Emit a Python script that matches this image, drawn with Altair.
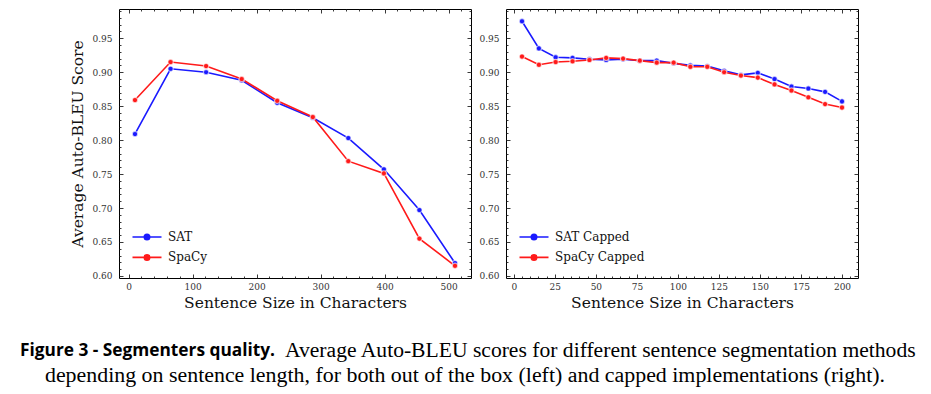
import altair as alt
import pandas as pd

# ---------------- data ----------------
left_sizes = [10, 65.6, 121.1, 176.7, 232.2, 287.8, 343.3, 398.9, 454.4, 510]
left_sat = [0.809, 0.905, 0.900, 0.888, 0.855, 0.833, 0.803, 0.757, 0.697, 0.619]
left_spacy = [0.859, 0.915, 0.909, 0.890, 0.858, 0.834, 0.769, 0.751, 0.655, 0.615]

right_sizes = [5, 15.3, 25.5, 35.8, 46.1, 56.3, 66.6, 76.8, 87.1, 97.4,
               107.6, 117.9, 128.2, 138.4, 148.7, 158.9, 169.2, 179.5, 189.7, 200]
right_sat = [0.975, 0.935, 0.922, 0.921, 0.919, 0.918, 0.919, 0.917, 0.917, 0.913,
             0.910, 0.909, 0.902, 0.896, 0.899, 0.890, 0.879, 0.876, 0.871, 0.857]
right_spacy = [0.923, 0.911, 0.915, 0.916, 0.918, 0.921, 0.920, 0.917, 0.914, 0.914,
               0.908, 0.908, 0.900, 0.895, 0.892, 0.882, 0.873, 0.863, 0.853, 0.848]

left_series = ["SAT", "SpaCy"]
right_series = ["SAT Capped", "SpaCy Capped"]
colors = ["#1a1aff", "#ff1a1a"]

x_title = "Sentence Size in Characters"
y_title = "Average Auto-BLEU Score"

caption_bold = ["Figure 3  - Segmenters quality."]
caption_line1 = ["Average Auto-BLEU scores for different sentence segmentation methods"]
caption_line2 = ["depending on sentence length, for both out of the box (left) and capped implementations (right)."]

left_x_major = [0, 100, 200, 300, 400, 500]
left_x_minor = [v for v in range(20, 540, 20) if v % 100 != 0]
right_x_major = [0, 25, 50, 75, 100, 125, 150, 175, 200]
right_x_minor = [v for v in range(5, 210, 5) if v % 25 != 0]
y_major = [0.60, 0.65, 0.70, 0.75, 0.80, 0.85, 0.90, 0.95]
y_minor = [round(0.60 + i * 0.01, 2) for i in range(40) if i % 5 != 0]

left_domain = [-15, 535]
right_domain = [-4.75, 209.75]
y_domain = [0.597, 0.993]

W, H = 352, 269
GAP = 35
SERIF = "DejaVu Serif"

# legend symbol: line with a dot (dot built from concentric rings)
def ring(r):
    return f"M{-r},0A{r},{r},0,1,1,{r},0A{r},{r},0,1,1,{-r},0"
legend_path = "M-3,0H3" + ring(0.56) + ring(0.38) + ring(0.2) + ring(0.05)


def make_df(xs, s1, s2, names):
    return pd.DataFrame({
        "x": list(xs) + list(xs),
        "y": list(s1) + list(s2),
        "series": [names[0]] * len(xs) + [names[1]] * len(xs),
    })


def panel(df, names, domain, x_major, x_minor, with_y_title, legend_x, caption=None):
    xs = alt.Scale(domain=domain, nice=False, zero=False)
    ys = alt.Scale(domain=y_domain, nice=False, zero=False)
    cs = alt.Scale(domain=names, range=colors)
    base = alt.Chart(df)

    line = base.mark_line(strokeWidth=1.6).encode(
        x=alt.X("x:Q", scale=xs, axis=alt.Axis(
            values=x_major, orient="bottom", offset=-4, tickSize=4, domain=False,
            labelPadding=4, title=x_title, titlePadding=4, format="d")),
        y=alt.Y("y:Q", scale=ys, axis=alt.Axis(
            values=y_major, orient="left", offset=-4, tickSize=4, domain=False,
            labelPadding=7, format=".2f",
            title=y_title if with_y_title else None, titlePadding=6)),
        color=alt.Color("series:N", scale=cs, legend=alt.Legend(
            title=None, orient="none", legendX=legend_x, legendY=222,
            symbolType=legend_path, symbolSize=93.5, symbolStrokeWidth=1.6,
            symbolOffset=10, labelOffset=15, rowPadding=8.4,
            labelFont=SERIF, labelFontSize=12, labelColor="#111",
            padding=0)),
        order=alt.value(0),
    )
    pts = base.mark_point(filled=True, size=28, opacity=1, stroke="white",
                          strokeWidth=1.2, strokeOpacity=0.6).encode(
        x=alt.X("x:Q", scale=xs, axis=alt.Axis(
            values=x_minor, orient="bottom", offset=-2, tickSize=2, domain=False,
            labels=False, title=None)),
        y=alt.Y("y:Q", scale=ys, axis=alt.Axis(
            values=y_minor, orient="left", offset=-2, tickSize=2, domain=False,
            labels=False, title=None)),
        fill=alt.Color("series:N", scale=cs, legend=None),
    )
    top_major = base.mark_point(opacity=0).encode(
        x=alt.X("x:Q", scale=xs, axis=alt.Axis(
            values=x_major, orient="top", offset=-4, tickSize=4, domain=False,
            labels=False, title=None)),
        y=alt.Y("y:Q", scale=ys, axis=alt.Axis(
            values=y_major, orient="right", offset=-4, tickSize=4, domain=False,
            labels=False, title=None)),
    )
    top_minor = base.mark_point(opacity=0).encode(
        x=alt.X("x:Q", scale=xs, axis=alt.Axis(
            values=x_minor, orient="top", offset=-2, tickSize=2, domain=False,
            labels=False, title=None)),
        y=alt.Y("y:Q", scale=ys, axis=alt.Axis(
            values=y_minor, orient="right", offset=-2, tickSize=2, domain=False,
            labels=False, title=None)),
    )
    layers = [line, pts, top_major, top_minor]
    if caption is not None:
        layers += caption
    return alt.layer(*layers).resolve_axis(x="independent", y="independent").properties(
        width=W, height=H)


cap_bold_df = pd.DataFrame({"t": caption_bold})
cap1_df = pd.DataFrame({"t": caption_line1})
cap2_df = pd.DataFrame({"t": caption_line2})
caption_layers = [
    alt.Chart(cap_bold_df).mark_text(align="left", baseline="middle", font="Open Sans",
                                     fontWeight="bold", fontSize=17.3, color="#000").encode(
        x=alt.value(-99), y=alt.value(342), text="t:N"),
    alt.Chart(cap1_df).mark_text(align="left", baseline="middle", font="Liberation Serif",
                                 fontSize=21.6, color="#000").encode(
        x=alt.value(166), y=alt.value(342), text="t:N"),
    alt.Chart(cap2_df).mark_text(align="center", baseline="middle", font="Liberation Serif",
                                 fontSize=21.9, color="#000").encode(
        x=alt.value(346), y=alt.value(366), text="t:N"),
]

left = panel(make_df(left_sizes, left_sat, left_spacy, left_series), left_series,
             left_domain, left_x_major, left_x_minor, True, 12, caption_layers)
right = panel(make_df(right_sizes, right_sat, right_spacy, right_series), right_series,
              right_domain, right_x_major, right_x_minor, False, 12)

chart = alt.hconcat(left, right, spacing=GAP, bounds="flush").resolve_scale(
    color="independent", fill="independent"
).resolve_legend(color="independent", fill="independent").properties(
    padding={"left": 11, "top": 0, "right": 0, "bottom": 0}
).configure_view(stroke="#000", strokeWidth=1).configure_axis(
    labelFont=SERIF, labelFontSize=9, labelColor="#333",
    titleFont=SERIF, titleFontSize=15.5, titleFontWeight="normal", titleColor="#111",
    tickColor="#222", tickWidth=0.9, grid=False
)

chart.save("out.html", embed_options={"renderer": "svg", "actions": False})
